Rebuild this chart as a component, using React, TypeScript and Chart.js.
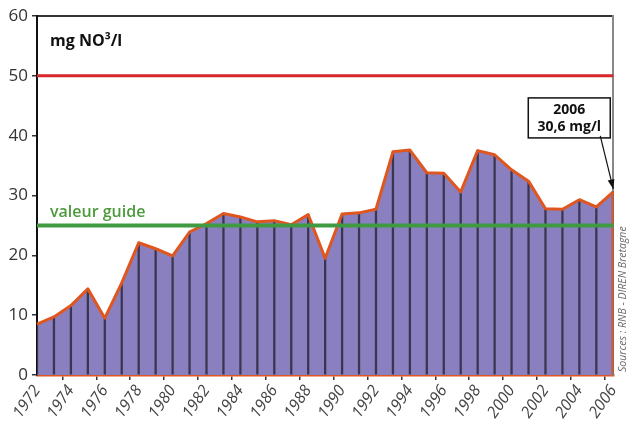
import React, { useEffect, useRef } from 'react';
import { Chart, registerables } from 'chart.js';

Chart.register(...registerables);

const years = [
  '1972', '1973', '1974', '1975', '1976', '1977', '1978', '1979', '1980', '1981',
  '1982', '1983', '1984', '1985', '1986', '1987', '1988', '1989', '1990', '1991',
  '1992', '1993', '1994', '1995', '1996', '1997', '1998', '1999', '2000', '2001',
  '2002', '2003', '2004', '2005', '2006',
];
const nitrate = [
  8.5, 9.7, 11.6, 14.4, 9.5, 15.4, 22.1, 21.1, 19.9, 23.9,
  25.3, 27.0, 26.4, 25.6, 25.8, 25.1, 26.8, 19.5, 26.9, 27.1,
  27.7, 37.3, 37.6, 33.8, 33.7, 30.6, 37.5, 36.8, 34.3, 32.4,
  27.8, 27.7, 29.3, 28.1, 30.6,
];
const yTicks = [0, 10, 20, 30, 40, 50, 60];
const LIMIT = 50;
const GUIDE = 25;
const unitLabel = 'mg NO³/l';
const guideLabel = 'valeur guide';
const noteLines = ['2006', '30,6 mg/l'];
const sourceLabel = 'Sources : RNB - DIREN Bretagne';

const ORANGE = '#e0561f';
const last = nitrate.length - 1;
const lastEdge = nitrate.map((v, i) => (i === last ? v : null));

const overlay = {
  id: 'overlay',
  afterDatasetsDraw(chart: any) {
    const { ctx, chartArea, scales } = chart;
    const y = scales.y;
    const x = scales.x;
    ctx.save();
    // limit line
    const yl = y.getPixelForValue(LIMIT);
    ctx.strokeStyle = '#d8262a';
    ctx.lineWidth = 3;
    ctx.beginPath();
    ctx.moveTo(chartArea.left, yl);
    ctx.lineTo(chartArea.right, yl);
    ctx.stroke();
    // guide line
    const yg = y.getPixelForValue(GUIDE);
    ctx.strokeStyle = '#3f9a42';
    ctx.lineWidth = 4;
    ctx.beginPath();
    ctx.moveTo(chartArea.left, yg);
    ctx.lineTo(chartArea.right, yg);
    ctx.stroke();
    // guide label
    ctx.fillStyle = '#4c9a3c';
    ctx.font = '600 16px "Open Sans"';
    ctx.textBaseline = 'alphabetic';
    ctx.textAlign = 'left';
    ctx.fillText(guideLabel, chartArea.left + 13, yg - 8);
    // unit label
    ctx.fillStyle = '#111';
    ctx.font = 'bold 16px "Open Sans"';
    ctx.fillText(unitLabel, chartArea.left + 13, chartArea.top + 30);
    // annotation box
    const px = x.getPixelForValue(last);
    const py = y.getPixelForValue(nitrate[last]);
    const bw = 82;
    const bh = 40;
    const bx = px - 3 - bw;
    const by = py - 54 - bh;
    ctx.fillStyle = '#fff';
    ctx.fillRect(bx, by, bw, bh);
    ctx.strokeStyle = '#111';
    ctx.lineWidth = 1.5;
    ctx.strokeRect(bx, by, bw, bh);
    ctx.fillStyle = '#111';
    ctx.font = 'bold 14px "Open Sans"';
    ctx.textAlign = 'center';
    ctx.fillText(noteLines[0], bx + bw / 2, by + 16);
    ctx.fillText(noteLines[1], bx + bw / 2, by + 33);
    // arrow
    const sx = px - 13;
    const sy = by + bh - 2;
    const ex = px;
    const ey = py - 3;
    ctx.lineWidth = 1.2;
    ctx.beginPath();
    ctx.moveTo(sx, sy);
    ctx.lineTo(ex, ey);
    ctx.stroke();
    const ang = Math.atan2(ey - sy, ex - sx);
    const hl = 10;
    ctx.beginPath();
    ctx.moveTo(ex, ey);
    ctx.lineTo(ex - hl * Math.cos(ang - 0.35), ey - hl * Math.sin(ang - 0.35));
    ctx.lineTo(ex - hl * Math.cos(ang + 0.35), ey - hl * Math.sin(ang + 0.35));
    ctx.closePath();
    ctx.fill();
    // source label
    ctx.translate(chartArea.right + 10, chartArea.bottom - 3);
    ctx.rotate(-Math.PI / 2);
    ctx.fillStyle = '#6a6a6a';
    ctx.font = 'italic 10.5px "Open Sans"';
    ctx.textAlign = 'left';
    ctx.textBaseline = 'middle';
    ctx.fillText(sourceLabel, 0, 0);
    ctx.restore();
  },
};

export default function App() {
  const ref = useRef<HTMLCanvasElement>(null);
  useEffect(() => {
    if (!ref.current) return;
    const chart = new Chart(ref.current, {
      type: 'line',
      data: {
        labels: years,
        datasets: [
          {
            type: 'line',
            data: nitrate,
            borderColor: ORANGE,
            borderWidth: 3,
            backgroundColor: '#8a7fbf',
            fill: 'origin',
            pointRadius: 0,
            tension: 0,
            borderJoinStyle: 'round',
            order: 0,
            xAxisID: 'x',
            yAxisID: 'y',
          } as any,
          {
            type: 'bar',
            data: nitrate,
            backgroundColor: '#3a3650',
            barThickness: 1.6,
            grouped: false,
            order: 2,
            xAxisID: 'x',
            yAxisID: 'y',
          } as any,
          {
            type: 'bar',
            data: lastEdge,
            backgroundColor: ORANGE,
            barThickness: 3,
            grouped: false,
            order: 1,
            xAxisID: 'x',
            yAxisID: 'y',
          } as any,
        ],
      },
      options: {
        animation: false,
        responsive: false,
        layout: { padding: 0 },
        plugins: {
          legend: { display: false },
          tooltip: { enabled: false },
          filler: { drawTime: 'beforeDatasetsDraw' },
        } as any,
        scales: {
          x: {
            type: 'category',
            position: 'bottom',
            offset: false,
            grid: {
              display: true,
              drawOnChartArea: false,
              drawTicks: true,
              tickLength: 5,
              lineWidth: 1.5,
              tickColor: (c: any) => (c.index % 2 === 0 ? '#333' : 'rgba(0,0,0,0)'),
            },
            border: { display: true, color: ORANGE, width: 2.5 },
            ticks: {
              autoSkip: false,
              maxRotation: 55,
              minRotation: 55,
              padding: 2,
              color: '#444',
              font: { family: 'Open Sans', size: 16, style: 'italic' },
              callback: (_v: any, i: number) => (i % 2 === 0 ? years[i] : ''),
            },
            afterFit: (s: any) => {
              s.height = 57;
            },
          },
          x2: {
            type: 'category',
            position: 'top',
            offset: false,
            grid: { display: false },
            ticks: { display: false },
            border: { display: true, color: '#333', width: 2 },
            afterFit: (s: any) => {
              s.height = 16;
            },
          },
          y: {
            position: 'left',
            min: 0,
            max: 60,
            afterBuildTicks: (s: any) => {
              s.ticks = yTicks.map((v) => ({ value: v }));
            },
            ticks: {
              color: '#333',
              padding: 4,
              font: { family: 'Open Sans', size: 17 },
            },
            grid: {
              drawOnChartArea: false,
              tickLength: 5,
              tickColor: '#333',
              lineWidth: 1.5,
            },
            border: { display: true, color: '#111', width: 2 },
            afterFit: (s: any) => {
              s.width = 37;
            },
          },
          y2: {
            position: 'right',
            min: 0,
            max: 60,
            grid: { display: false },
            ticks: { display: false },
            border: { display: true, color: '#888', width: 2 },
            afterFit: (s: any) => {
              s.width = 15;
            },
          },
        },
      } as any,
      plugins: [overlay],
    });
    return () => chart.destroy();
  }, []);
  return (
    <div style={{ position: 'absolute', left: 0, top: 0, width: 631, height: 432, background: '#fff' }}>
      <canvas ref={ref} width={631} height={432} style={{ display: 'block' }} />
    </div>
  );
}
